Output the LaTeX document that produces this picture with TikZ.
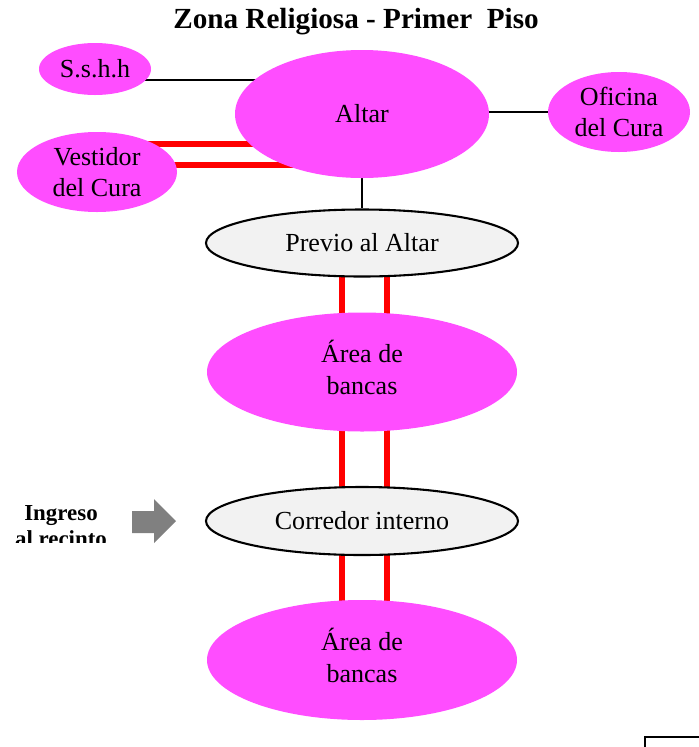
\documentclass[tikz,border=0pt]{standalone}
\usepackage{fontspec}
\setmainfont{Liberation Serif}
\usetikzlibrary{shapes.geometric, backgrounds}

\definecolor{rosa}{RGB}{255,77,255}
\definecolor{grisclaro}{RGB}{242,242,242}
\definecolor{flecha}{RGB}{128,128,128}
\newcommand{\pix}{0.48pt}

\begin{document}
\begin{tikzpicture}[
  x=0.48pt, y=-0.48pt,
  zona/.style={ellipse, fill=rosa, inner sep=0pt, align=center,
    font=\fontsize{12.5}{14.6}\selectfont},
  paso/.style={ellipse, draw, line width=1pt, fill=grisclaro, inner sep=0pt,
    font=\fontsize{12.5}{14.6}\selectfont},
  linea/.style={line width=0.5pt},
  doble/.style={red, line width=2.5pt},
  ingreso/.style={font=\bfseries\fontsize{11}{12.5}\selectfont, align=center, inner sep=0pt},
]
\clip (0,0) rectangle (699,747);

% titulo
\node[font=\bfseries\fontsize{14}{17}\selectfont, anchor=base] (titulo) at (356,28)
  {Zona Religiosa - Primer~\ Piso};

% zonas
\node[zona, minimum width=112*\pix, minimum height=52*\pix] (sshh) at (95,69) {S.s.h.h};
\node[zona, minimum width=254*\pix, minimum height=128*\pix] (altar) at (362,114) {Altar};
\node[zona, minimum width=142*\pix, minimum height=80*\pix] (oficina) at (619,112)
  {Oficina\\del Cura};
\node[zona, minimum width=160*\pix, minimum height=80*\pix] (vestidor) at (97,172)
  {Vestidor\\del Cura};
\node[paso, minimum width=312*\pix, minimum height=67*\pix] (previo) at (362,243)
  {Previo al Altar};
\node[zona, minimum width=310*\pix, minimum height=119*\pix] (bancasA) at (362,372)
  {\raisebox{2pt}{\begin{tabular}{@{}c@{}}Área de\\[1pt]bancas\end{tabular}}};
\node[paso, minimum width=312*\pix, minimum height=68*\pix] (corredor) at (362,521)
  {Corredor interno};
\node[zona, minimum width=310*\pix, minimum height=120*\pix] (bancasB) at (362,660)
  {\raisebox{2pt}{\begin{tabular}{@{}c@{}}Área de\\[1pt]bancas\end{tabular}}};

% conexiones
\begin{scope}[on background layer]
  \draw[linea] (sshh.center |- 0,80) -- (altar.center |- 0,80);
  \draw[linea] (altar.center |- 0,112) -- (oficina.center |- 0,112);
  \draw[linea] (altar) -- (previo);
  \draw[doble] (vestidor.center |- 0,144) -- (altar.center |- 0,144);
  \draw[doble] (vestidor.center |- 0,165) -- (altar.center |- 0,165);
  \foreach \xx in {342,387} {
    \draw[doble] (previo.center -| \xx,0) -- (bancasA.center -| \xx,0);
    \draw[doble] (bancasA.center -| \xx,0) -- (corredor.center -| \xx,0);
    \draw[doble] (corredor.center -| \xx,0) -- (bancasB.center -| \xx,0);
  }
\end{scope}

% ingreso
\begin{scope}
  \clip (0,480) rectangle (130,542);
  \node[ingreso] (ingresoTxt) at (61,526) {Ingreso\\al recinto};
\end{scope}
\fill[flecha] (132,511) -- (154,511) -- (154,499) -- (176,521) -- (154,543)
  -- (154,533) -- (132,533) -- cycle;

% recuadro
\draw[linea] (645,737) rectangle (720,790);

\end{tikzpicture}
\end{document}
